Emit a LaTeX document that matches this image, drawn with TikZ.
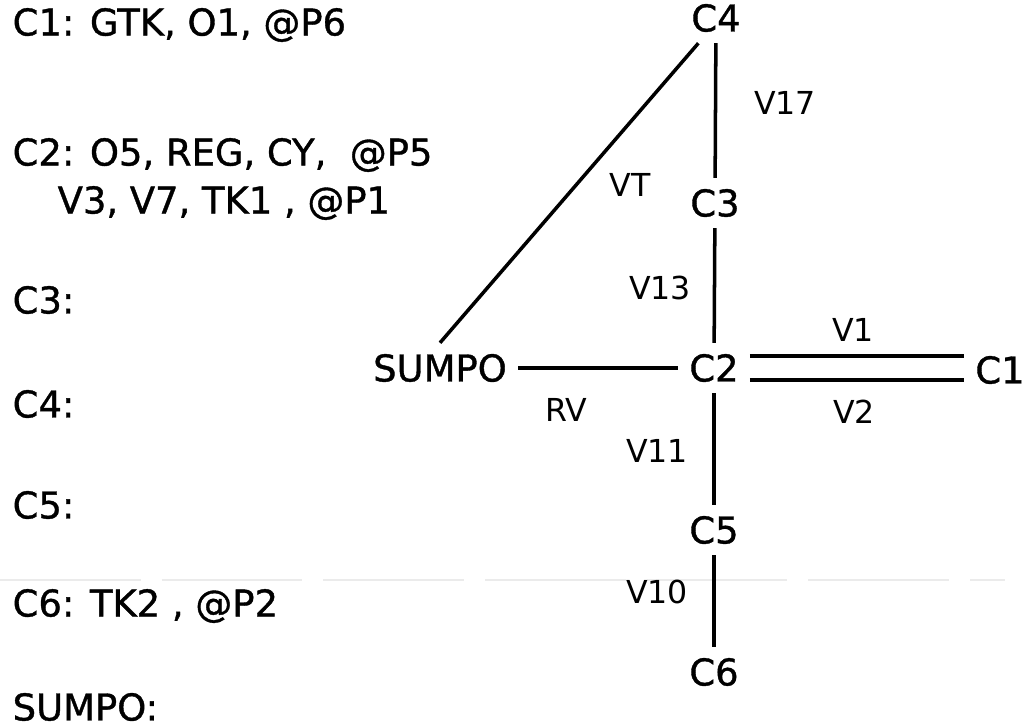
\documentclass[tikz,border=0pt]{standalone}
\usepackage{fontspec}
\setmainfont{DejaVu Sans}
\newfontfamily\heavyface[FakeBold=1]{DejaVu Sans}
\tikzset{
    cell/.style={font=\heavyface\fontsize{10.5}{12}\selectfont, inner sep=3pt},
    vlab/.style={font=\fontsize{9}{10}\selectfont, inner sep=1pt},
    note/.style={anchor=west, inner sep=0pt, font=\heavyface\fontsize{10.5}{12}\selectfont},
    pipe/.style={line width=1pt}
}

\begin{document}
\begin{tikzpicture}
    \useasboundingbox (0,0) rectangle (10.27,-7.26);
    \begin{scope}
    \node[note] (n1) at (0.12,-0.25) {C1: GTK, O1, @P6};
    \node[note] (n2) at (0.12,-1.55) {C2: O5, REG, CY,\ \ @P5};
    \node[note] (n2b) at (0.57,-2.03) {V3, V7, TK1 , @P1};
    \node[note] (n3) at (0.12,-3.00) {C3:};
    \node[note] (n4) at (0.12,-4.04) {C4:};
    \node[note] (n5) at (0.12,-5.05) {C5:};
    \node[note] (n6) at (0.12,-6.06) {C6: TK2 , @P2};
    \node[note] (n7) at (0.12,-7.07) {SUMPO:};
    \end{scope}
    \draw[black!8, dashed, dash pattern=on 40pt off 6pt, line width=0.5pt] (0,-5.80) -- (10.05,-5.80);

    \node[cell] (c4) at (7.16,-0.18) {C4};
    \node[cell] (c3) at (7.15,-2.03) {C3};
    \node[cell] (c2) at (7.14,-3.68) {C2};
    \node[cell] (c5) at (7.14,-5.30) {C5};
    \node[cell] (c6) at (7.14,-6.72) {C6};
    \node[cell] (c1) at (10.00,-3.70) {C1};
    \node[cell] (sump) at (4.40,-3.68) {SUMPO};

    \draw[pipe] (c4) -- (c3);
    \draw[pipe] (c3) -- (c2);
    \draw[pipe] (c2) -- (c5);
    \draw[pipe] (c5) -- (c6);
    \draw[pipe] (sump) -- (c2);
    \draw[pipe] (sump.north) -- (c4.235);
    \coordinate (v1a) at ([yshift=0.12cm]c2.east);
    \coordinate (v2a) at ([yshift=-0.12cm]c2.east);
    \draw[pipe] (v1a) -- (v1a -| c1.west);
    \draw[pipe] (v2a) -- (v2a -| c1.west);

    \node[vlab] (l17) at (7.85,-1.03) {V17};
    \node[vlab] (lt) at (6.30,-1.85) {VT};
    \node[vlab] (l13) at (6.60,-2.88) {V13};
    \node[vlab] (l1) at (8.53,-3.30) {V1};
    \node[vlab] (l2) at (8.54,-4.12) {V2};
    \node[vlab] (lr) at (5.66,-4.10) {RV};
    \node[vlab] (l11) at (6.57,-4.51) {V11};
    \node[vlab] (l10) at (6.57,-5.92) {V10};
\end{tikzpicture}
\end{document}
